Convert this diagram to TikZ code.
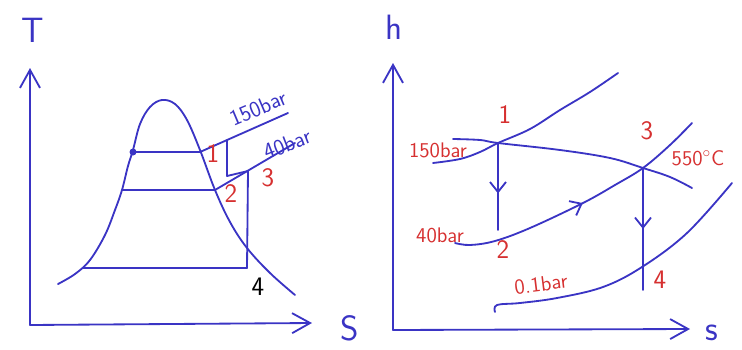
\documentclass[tikz,border=0pt]{standalone}
\usetikzlibrary{arrows.meta,decorations.markings}
\definecolor{ink}{RGB}{58,52,196}
\definecolor{redink}{RGB}{214,48,48}
\begin{document}
\begin{tikzpicture}[
  x=0.025cm, y=-0.025cm,
  line/.style={ink, line width=1.3pt, line cap=round, line join=round},
  axis/.style={line, -{Straight Barb[length=4.5mm,width=5mm,line width=1.3pt]}},
  midarrow/.style={postaction={decorate}, decoration={markings,
    mark=at position #1 with {\arrow[ink,line width=1.3pt]{Straight Barb[length=2.5mm,width=4mm]}}}},
  axlabel/.style={ink, inner sep=0pt, font=\fontsize{25}{27}\selectfont\sffamily},
  pbar/.style={ink, inner sep=1pt, font=\fontsize{16}{18}\selectfont\sffamily},
  state/.style={redink, font=\fontsize{19}{21}\selectfont\sffamily},
  rlab/.style={redink, font=\fontsize{15}{17}\selectfont\sffamily}
]
  \useasboundingbox (0,0) rectangle (742,349);

  % T-s diagram
  \coordinate (O1) at (30,325);
  \coordinate (Ttip) at (30,68);
  \coordinate (Stip) at (312,323);
  \draw[axis] (O1) -- (Ttip);
  \draw[axis] (O1) -- (Stip);
  \node[axlabel] (T) at (33,30) {T};
  \node[axlabel] (S) at (350,328) {S};

  % saturation dome
  \draw[line] plot[smooth, tension=0.6] coordinates {(58,284) (75,274) (90,260) (105,235) (115,210)
    (122,190) (128,166) (133,150) (140,124) (150,107) (162,100) (175,104) (187,120) (200,150)
    (215,190) (230,222) (247,248) (270,273) (295,295)};

  \coordinate (fA) at (133,152); \coordinate (gA) at (200,152);
  \coordinate (fB) at (122,190); \coordinate (gB) at (215,190);
  \coordinate (fC) at (83,268);  \coordinate (gC) at (247,268);
  \coordinate (p1) at (227,140); \coordinate (p1b) at (227,176);
  \coordinate (p3) at (248,171);
  \coordinate (hp) at (288,113); \coordinate (ip) at (295,143);

  \draw[line] (fA) -- (gA) -- (hp);
  \draw[line] (fB) -- (gB) -- (ip);
  \draw[line] (fC) -- (gC);
  \draw[line] (p1) -- (p1b) -- (p3) -- (gC);
  \fill[ink] (fA) circle (3.5);

  \node[pbar, rotate=23] (hpl) at (258,108) {150bar};
  \node[pbar, rotate=21] (ipl) at (287,144) {40bar};
  \node[state] (n1) at (213,154) {1};
  \node[state] (n2) at (231,194) {2};
  \node[state] (n3) at (268,178) {3};
  \node[state, text=black] (n4) at (258,287) {4};

  % h-s diagram
  \coordinate (O2) at (393,330);
  \coordinate (htip) at (393,63);
  \coordinate (stip) at (690,329);
  \draw[axis] (O2) -- (htip);
  \draw[axis] (O2) -- (stip);
  \node[axlabel] (h) at (394,27) {h};
  \node[axlabel] (s) at (712,333) {s};

  \coordinate (q1) at (498,143); \coordinate (q2) at (498,230);
  \coordinate (q3) at (643,168); \coordinate (q4) at (643,290);

  \draw[line] plot[smooth, tension=0.6] coordinates {(433,163) (460,159) (480,152) (498,143)
    (530,129) (560,110) (590,92) (618,73)};
  \draw[line] plot[smooth, tension=0.6] coordinates {(453,139) (480,140) (498,143) (560,150)
    (610,158) (643,168) (670,177) (692,188)};
  \draw[line, midarrow=0.5] plot[smooth, tension=0.6] coordinates {(455,243) (470,245) (495,241)
    (530,228) (583,203) (615,185) (643,168) (670,145) (692,123)};
  \draw[line] plot[smooth, tension=0.6] coordinates {(495,312) (497,305) (520,303) (557,298)
    (603,287) (642,267) (687,233) (732,183)};
  \draw[line, midarrow=0.58] (q1) -- (q2);
  \draw[line, midarrow=0.5] (q3) -- (q4);

  \node[rlab] (l150) at (438,150) {150bar};
  \node[rlab] (l40) at (440,235) {40bar};
  \node[rlab] (l550) at (698,158) {550$^\circ$C};
  \node[rlab, rotate=7] (l01) at (541,284) {0.1bar};
  \node[state] (m1) at (505,115) {1};
  \node[state] (m2) at (503,250) {2};
  \node[state] (m3) at (647,131) {3};
  \node[state] (m4) at (660,280) {4};
\end{tikzpicture}
\end{document}
